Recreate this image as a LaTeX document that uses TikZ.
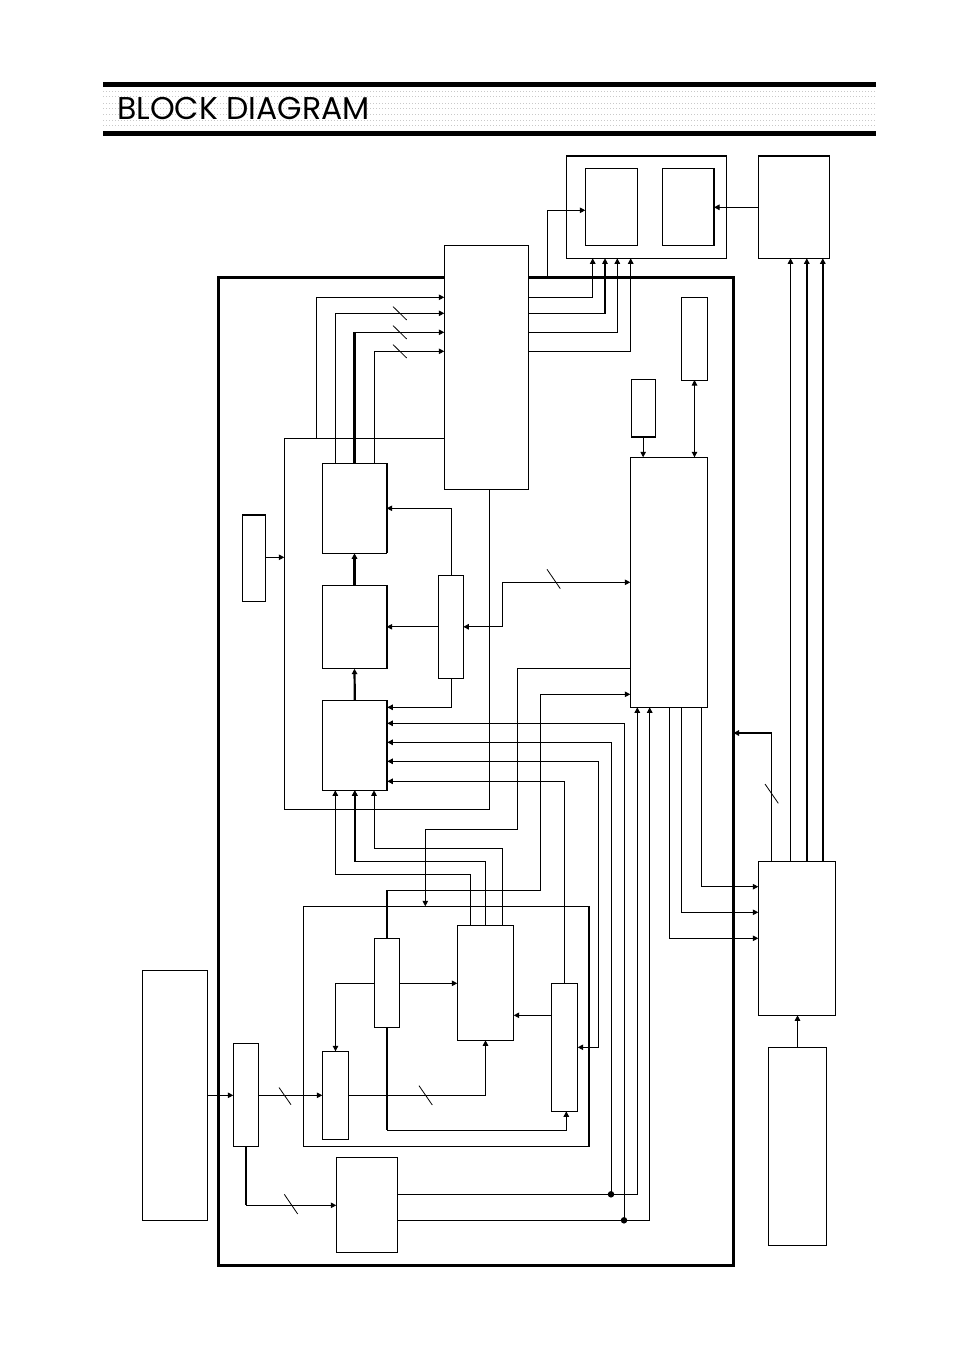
\documentclass[tikz,border=0pt]{standalone}
\usepackage{fontspec}
\setmainfont{Poppins}
\usetikzlibrary{arrows.meta,fit}
\tikzset{
  blockbox/.style={draw,line width=1pt,fill=white,inner sep=0pt,outer sep=0pt},
  framebox/.style={draw,line width=3pt,inner sep=0pt,outer sep=0pt},
  groupbox/.style={draw,line width=1pt,inner sep=0pt,outer sep=0pt},
  wire/.style={line width=1pt},
  bus/.style={line width=2.2pt},
  tick/.style={line width=0.8pt},
  dotmark/.style={circle,fill=black,inner sep=0pt,minimum size=6.5pt},
  headbar/.style={line width=4.7pt},
  headdots/.style={gray!42,line width=1pt,dash pattern=on 1pt off 2pt}
}
\begin{document}
\begin{tikzpicture}[x=1pt,y=-1pt,>={Triangle[length=5.5pt,width=5.5pt]}]
  \useasboundingbox (0,0) rectangle (954,1351);
  % header
  \foreach \y in {91.3,97,103.3,109,114.3,120.3,125.7}{
    \draw[headdots] (103,\y) -- (875,\y);
  }
  \draw[headbar] (103,84.3) -- (876,84.3);
  \draw[headbar] (103,133.3) -- (876,133.3);
  \node[anchor=base west,inner sep=0pt,font=\fontsize{31.5}{32}\selectfont] (title) at (117,120) {BLOCK DIAGRAM};

  % outer boxes
  \node[framebox,fit={(218.5,277.5) (733.5,1265)}] (mainframe) {};
  \node[groupbox,fit={(303.3,906.3) (589.3,1146.3)}] (group) {};
  \draw[bus] (group.north east) -- (group.south east);
  \node[blockbox,fit={(566.7,155.7) (726.3,258.3)}] (display) {};
  \draw[bus] (display.north west) -- (display.north east);
  \coordinate (encl) at (284.3,438.3);
  \draw[wire] (444.3,438.3) -- (encl) -- (284.3,809.3) -- (489.7,809.3) -- (489.7,489.3);

  % blocks
  \node[blockbox,fit={(585.3,168.3) (637.7,245.3)}] (crtL) {};
  \node[blockbox,fit={(662.3,168.3) (714,245.3)}] (crtR) {};
  \node[blockbox,fit={(758.3,155.7) (829.3,258.3)}] (drive) {};
  \node[blockbox,fit={(444.3,245.3) (528.7,489.3)}] (bigbox) {};
  \node[blockbox,fit={(681.3,297) (707.7,380)}] (memory) {};
  \node[blockbox,fit={(631.3,379.5) (655,437)}] (clock) {};
  \node[blockbox,fit={(630.3,457.3) (707.3,707.3)}] (micom) {};
  \node[blockbox,fit={(322.3,463.3) (386.7,553.3)}] (procA) {};
  \node[blockbox,fit={(322.3,585.3) (386.7,668.7)}] (procB) {};
  \node[blockbox,fit={(322.3,700.3) (387.3,790.3)}] (procC) {};
  \node[blockbox,fit={(242.3,514.7) (265.7,601.3)}] (sidebox) {};
  \node[blockbox,fit={(438.3,575.3) (463.3,678.3)}] (muxbox) {};
  \node[blockbox,fit={(374.3,938.3) (399.7,1027.3)}] (ctrlD) {};
  \node[blockbox,fit={(457.3,925.3) (513.7,1040.3)}] (ctrlE) {};
  \node[blockbox,fit={(551.3,983.3) (577.7,1111.3)}] (ctrlF) {};
  \node[blockbox,fit={(322.3,1051.3) (348.7,1139.3)}] (ctrlG) {};
  \node[blockbox,fit={(233.3,1043.3) (258.7,1146.3)}] (inbox) {};
  \node[blockbox,fit={(336.3,1157.3) (397.7,1252.3)}] (lowbox) {};
  \node[blockbox,fit={(142.3,970.3) (207.7,1220.3)}] (source) {};
  \node[blockbox,fit={(758.3,861.3) (835.7,1015.3)}] (power) {};
  \node[blockbox,fit={(768.3,1047) (826.7,1245.7)}] (supply) {};
  \draw[bus] (crtR.north east) -- (crtR.south east);
  \draw[bus] (drive.north west) -- (drive.north east);
  \draw[bus] (clock.south west) -- (clock.south east);
  \draw[bus] (sidebox.north west) -- (sidebox.north east);
  \foreach \b in {procA,procB,procC}{
    \draw[bus] (\b.north east) -- (\b.south east);
  }

  % into the big box
  \draw[wire,->] (316.3,0 |- encl) |- (bigbox.west |- 0,297.3);
  \draw[wire,->] (335.3,0 |- procA.north) |- (bigbox.west |- 0,313.3);
  \draw[wire,->] (procA.north) |- (bigbox.west |- 0,332.3);
  \draw[bus] (procA.north) -- (procA.north |- 0,332.3);
  \draw[wire,->] (374.3,0 |- procA.north) |- (bigbox.west |- 0,351.3);
  \foreach \y in {313.3,332.3,351.3}{
    \draw[tick] (393,\y-6.7) -- (406.7,\y+6.7);
  }

  % out of the big box
  \draw[wire,->] (bigbox.east |- 0,297.3) -| (592.7,0 |- display.south);
  \draw[wire,->] (bigbox.east |- 0,313.3) -| (605,0 |- display.south);
  \draw[bus] (605,313.3) -- (605,264);
  \draw[wire,->] (bigbox.east |- 0,332.3) -| (617.3,0 |- display.south);
  \draw[wire,->] (bigbox.east |- 0,351.3) -| (630.7,0 |- display.south);
  \draw[wire,->] (547.3,0 |- mainframe.north) |- (crtL.west |- 0,210.3);
  \draw[wire,->] (drive.west |- 0,207.3) -- (crtR.east |- 0,207.3);

  % right hand side
  \draw[wire,<->] (memory.south) -- (memory.south |- micom.north);
  \draw[wire,->] (clock.south) -- (clock.south |- micom.north);
  \draw[wire] (771.7,0 |- power.north) -- (771.7,733);
  \draw[bus,->] (771.7,733) -- (mainframe.east |- 0,733);
  \draw[tick] (765,784) -- (778.3,803.3);
  \foreach \x in {790.5,806.8,822.8}{
    \draw[wire,->] (\x,0 |- power.north) -- (\x,0 |- drive.south);
  }
  \foreach \x in {806.8,822.8}{
    \draw[bus] (\x,0 |- power.north) -- (\x,264);
  }
  \draw[wire,->] (701.3,0 |- micom.south) |- (power.west |- 0,886.7);
  \draw[wire,->] (681.3,0 |- micom.south) |- (power.west |- 0,912.3);
  \draw[wire,->] (669.3,0 |- micom.south) |- (power.west |- 0,938.3);
  \draw[wire,->] (supply.north) -- (supply.north |- power.south);

  % middle blocks
  \draw[bus,->] (procC.north) -- (procB.south);
  \draw[bus,->] (procB.north) -- (procA.south);
  \draw[wire,->] (sidebox.east |- 0,557.3) -- (284.3,557.3);
  \draw[wire,->] (451.3,0 |- muxbox.north) |- (procA.east |- 0,508.3);
  \draw[wire,->] (muxbox.west) -- (procB.east |- muxbox.west);
  \draw[wire,->] (451.3,0 |- muxbox.south) |- (procC.east |- 0,707.3);
  \draw[wire,<->] (muxbox.east) -- (502.3,0 |- muxbox.east) |- (micom.west |- 0,582.3);
  \draw[tick] (547,569.3) -- (560.3,588.7);
  \draw[wire] (micom.west |- 0,668.3) -- (517.7,668.3) -- (517.7,829.3) -- (425.3,829.3);
  \draw[wire,->] (425.3,829.3) -- (425.3,0 |- group.north);
  \draw[wire,->] (ctrlD.north) |- (540.3,890.3) |- (micom.west |- 0,694.3);
  \draw[bus] (ctrlD.north) -- (ctrlD.north |- 0,890.3);

  % into procC from below
  \draw[wire,->] (470.7,0 |- ctrlE.north) |- (335.3,874.3) -- (335.3,0 |- procC.south);
  \draw[wire,->] (485.3,0 |- ctrlE.north) |- (354.8,861.3) -- (354.8,0 |- procC.south);
  \draw[bus,->] (354.8,861.3) -- (354.8,0 |- procC.south);
  \draw[wire,->] (502.3,0 |- ctrlE.north) |- (374,848.3) -- (374,0 |- procC.south);

  % lower group
  \draw[wire] (ctrlD.west |- 0,983.3) -- (335.5,983.3);
  \draw[wire,->] (335.5,983.3) -- (ctrlG.north);
  \draw[wire,->] (ctrlD.east |- 0,983.3) -- (ctrlE.west |- 0,983.3);
  \draw[wire,->] (ctrlF.west |- 0,1015.3) -- (ctrlE.east |- 0,1015.3);
  \draw[wire,->] (ctrlG.east |- 0,1095.3) -| (ctrlE.south);
  \draw[tick] (419,1085.7) -- (432.3,1105);
  \draw[wire,->] (ctrlD.south) |- (566.3,1130.3) -- (566.3,0 |- ctrlF.south);
  \draw[bus] (ctrlD.south) -- (ctrlD.south |- 0,1130.3);
  \draw[wire,->] (564.3,0 |- ctrlF.north) |- (procC.east |- 0,781.3);
  \draw[wire,->] (598.3,761.3) |- (ctrlF.east |- 0,1047.3);
  \draw[wire,->] (598.3,761.3) -- (procC.east |- 0,761.3);

  % input side
  \draw[wire,->] (source.east |- 0,1095.3) -- (inbox.west |- 0,1095.3);
  \draw[wire,->] (inbox.east |- 0,1095.3) -- (ctrlG.west |- 0,1095.3);
  \draw[tick] (279,1087.5) -- (291,1104.7);
  \draw[wire,->] (inbox.south) |- (lowbox.west |- 0,1205.3);
  \draw[bus] (inbox.south) -- (inbox.south |- 0,1205.3);
  \draw[tick] (284.3,1194.3) -- (297.7,1214);

  % lines from the low box
  \node[dotmark] (joinA) at (611,1194.3) {};
  \node[dotmark] (joinB) at (624,1220.3) {};
  \draw[wire,->] (lowbox.east |- joinA) -| (637.3,0 |- micom.south);
  \draw[wire,->] (lowbox.east |- joinB) -| (649.7,0 |- micom.south);
  \draw[wire,->] (joinA.center) |- (procC.east |- 0,742.3);
  \draw[wire,->] (joinB.center) |- (procC.east |- 0,723.3);
\end{tikzpicture}
\end{document}
